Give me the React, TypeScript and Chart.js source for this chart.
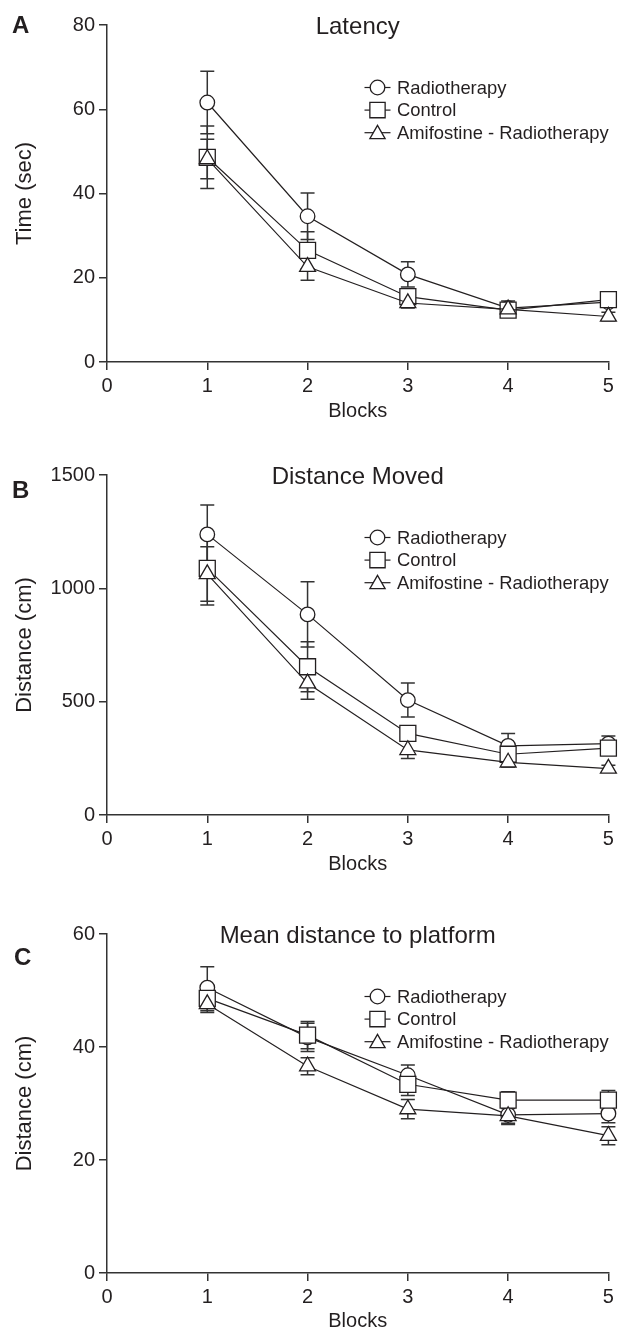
import React, { useEffect, useRef } from 'react';
import { Chart, registerables } from 'chart.js';

Chart.register(...registerables);

// ---------- data ----------
const blocks = [1, 2, 3, 4, 5];
const seriesNames = ['Radiotherapy', 'Control', 'Amifostine - Radiotherapy'];

// Panel A – Latency (sec)
const latencyRadiotherapy = [61.6, 34.6, 20.8, 12.8, 14.2];
const latencyControl = [48.6, 26.5, 15.5, 12.3, 14.8];
const latencyAmifostine = [48.2, 22.6, 14.0, 12.5, 10.8];
const latencyRadiotherapyErr = [7.4, 5.5, 3.0, 1.7, 1.0];
const latencyControlErr = [7.4, 4.4, 1.5, 1.0, 1.2];
const latencyAmifostineErr = [4.7, 3.2, 1.2, 1.2, 1.0];

// Panel B – Distance moved (cm)
const movedRadiotherapy = [1238, 885, 507, 305, 315];
const movedControl = [1088, 654, 360, 268, 295];
const movedAmifostine = [1063, 581, 287, 232, 205];
const movedRadiotherapyErr = [130, 144, 75, 55, 33];
const movedControlErr = [162, 110, 30, 30, 25];
const movedAmifostineErr = [120, 70, 38, 20, 15];

// Panel C – Mean distance to platform (cm)
const platformRadiotherapy = [50.5, 41.7, 35.0, 28.0, 28.2];
const platformControl = [48.6, 42.1, 33.4, 30.6, 30.6];
const platformAmifostine = [47.6, 36.6, 29.0, 27.8, 24.3];
const platformRadiotherapyErr = [3.7, 2.5, 1.8, 1.5, 1.6];
const platformControlErr = [2.2, 2.4, 2.0, 1.5, 1.7];
const platformAmifostineErr = [1.5, 1.5, 1.7, 1.5, 1.6];

// ---------- styling ----------
const INK = '#231f20';
const AXIS = '#333333';
const FONT = "'Liberation Sans', Arial, Helvetica, sans-serif";
const pointStyles = ['circle', 'rect', 'triangle'];
const pointRadii = [7.3, 11.3, 9.2];

Chart.defaults.font.family = FONT;
Chart.defaults.color = INK;

function drawMarker(ctx: CanvasRenderingContext2D, style: string, x: number, y: number, r: number) {
  ctx.beginPath();
  if (style === 'circle') {
    ctx.arc(x, y, r, 0, Math.PI * 2);
  } else if (style === 'rect') {
    const h = r * Math.SQRT1_2;
    ctx.rect(x - h, y - h, 2 * h, 2 * h);
  } else {
    for (let k = 0; k < 3; k++) {
      const a = (k * 2 * Math.PI) / 3;
      const px = x + Math.sin(a) * r;
      const py = y - Math.cos(a) * r;
      if (k === 0) ctx.moveTo(px, py);
      else ctx.lineTo(px, py);
    }
    ctx.closePath();
  }
  ctx.fillStyle = '#ffffff';
  ctx.fill();
  ctx.strokeStyle = INK;
  ctx.lineWidth = 1.3;
  ctx.stroke();
}

type PanelProps = {
  letter: string;
  letterX: number;
  letterBaseline: number;
  title: string;
  yLabel: string;
  yMax: number;
  yStep: number;
  values: number[][];
  errors: number[][];
  top: number;
  height: number;
  xScaleHeight: number;
  blocksPad: number;
};

function Panel(p: PanelProps) {
  const ref = useRef<HTMLCanvasElement | null>(null);

  useEffect(() => {
    if (!ref.current) return;

    const errorBars = {
      id: 'errorBars' + p.letter,
      beforeDatasetsDraw(chart: any) {
        const ctx = chart.ctx;
        const yScale = chart.scales.y;
        ctx.save();
        ctx.strokeStyle = AXIS;
        ctx.lineWidth = 1.5;
        p.values.forEach((vals, i) => {
          const meta = chart.getDatasetMeta(i);
          vals.forEach((v, j) => {
            const e = p.errors[i][j];
            const x = meta.data[j].x;
            const yt = yScale.getPixelForValue(v + e);
            const yb = yScale.getPixelForValue(v - e);
            ctx.beginPath();
            ctx.moveTo(x, yt);
            ctx.lineTo(x, yb);
            ctx.moveTo(x - 7, yt);
            ctx.lineTo(x + 7, yt);
            ctx.moveTo(x - 7, yb);
            ctx.lineTo(x + 7, yb);
            ctx.stroke();
          });
        });
        ctx.restore();
      },
    };

    const decorations = {
      id: 'decor' + p.letter,
      afterDatasetsDraw(chart: any) {
        const ctx = chart.ctx;
        const area = chart.chartArea;
        ctx.save();
        // panel letter
        ctx.fillStyle = INK;
        ctx.font = `bold 24px ${FONT}`;
        ctx.textAlign = 'left';
        ctx.textBaseline = 'alphabetic';
        ctx.fillText(p.letter, p.letterX, p.letterBaseline);
        // title
        ctx.font = `24px ${FONT}`;
        ctx.textAlign = 'center';
        ctx.fillText(p.title, (area.left + area.right) / 2, area.top + 9);
        // legend
        ctx.font = `18.4px ${FONT}`;
        ctx.textAlign = 'left';
        ctx.textBaseline = 'middle';
        seriesNames.forEach((name, i) => {
          const cy = area.top + 62.5 + 22.6 * i;
          const cx = area.left + 270.5;
          ctx.strokeStyle = INK;
          ctx.lineWidth = 1.2;
          ctx.beginPath();
          ctx.moveTo(cx - 13, cy);
          ctx.lineTo(cx + 13, cy);
          ctx.stroke();
          const r = i === 0 ? 7.3 : i === 1 ? 10.8 : 8.8;
          drawMarker(ctx, pointStyles[i], cx, i === 2 ? cy + 1.5 : cy, r);
          ctx.fillStyle = INK;
          ctx.fillText(name, area.left + 290, cy + 1);
        });
        ctx.restore();
      },
    };

    const chart = new Chart(ref.current, {
      type: 'line',
      data: {
        datasets: p.values.map((vals, i) => ({
          label: seriesNames[i],
          data: blocks.map((b, j) => ({ x: b, y: vals[j] })),
          borderColor: INK,
          borderWidth: 1.2,
          pointStyle: pointStyles[i] as any,
          pointRadius: pointRadii[i],
          pointBackgroundColor: '#ffffff',
          pointBorderColor: INK,
          pointBorderWidth: 1.3,
          tension: 0,
          order: 2 - i,
          clip: false as any,
        })),
      },
      options: {
        animation: false,
        responsive: false,
        devicePixelRatio: 1,
        events: [],
        layout: { padding: { top: 25, right: 4, left: 0, bottom: 0 } },
        plugins: {
          legend: { display: false },
          tooltip: { enabled: false },
          title: { display: false },
        },
        scales: {
          x: {
            type: 'linear',
            min: 0,
            max: 5,
            ticks: {
              stepSize: 1,
              padding: 4,
              color: INK,
              font: { size: 20, family: FONT },
              callback: (v: any) => String(v),
            },
            grid: { drawOnChartArea: false, drawTicks: true, tickLength: 8, color: AXIS, lineWidth: 1.5 },
            border: { display: true, color: AXIS, width: 1.5 },
            title: {
              display: true,
              text: 'Blocks',
              color: INK,
              font: { size: 20, family: FONT },
              padding: { top: 0, bottom: p.blocksPad },
            },
            afterFit: (s: any) => {
              s.height = p.xScaleHeight;
              s.paddingLeft = 0;
              s.paddingRight = 0;
            },
          },
          y: {
            type: 'linear',
            min: 0,
            max: p.yMax,
            ticks: {
              stepSize: p.yStep,
              padding: 4,
              color: INK,
              font: { size: 20, family: FONT },
              callback: (v: any) => String(v),
            },
            grid: { drawOnChartArea: false, drawTicks: true, tickLength: 8, color: AXIS, lineWidth: 1.5 },
            border: { display: true, color: AXIS, width: 1.5 },
            title: {
              display: true,
              text: p.yLabel,
              color: INK,
              font: { size: 22, family: FONT },
              padding: { top: 12, bottom: 0 },
            },
            afterFit: (s: any) => {
              s.width = 107;
              s.paddingTop = 0;
              s.paddingBottom = 0;
            },
          },
        },
      } as any,
      plugins: [errorBars, decorations],
    });
    return () => chart.destroy();
  }, []);

  return (
    <canvas
      ref={ref}
      width={621}
      height={p.height}
      style={{ position: 'absolute', left: 0, top: p.top, width: 621, height: p.height, display: 'block' }}
    />
  );
}

export default function App() {
  return (
    <div style={{ position: 'absolute', left: 0, top: 0, width: 621, height: 1333, overflow: 'hidden', background: '#fff' }}>
      <Panel
        letter="A"
        letterX={12}
        letterBaseline={33}
        title="Latency"
        yLabel="Time (sec)"
        yMax={80}
        yStep={20}
        values={[latencyRadiotherapy, latencyControl, latencyAmifostine]}
        errors={[latencyRadiotherapyErr, latencyControlErr, latencyAmifostineErr]}
        top={0}
        height={430}
        xScaleHeight={68}
        blocksPad={7}
      />
      <Panel
        letter="B"
        letterX={12}
        letterBaseline={48}
        title="Distance Moved"
        yLabel="Distance (cm)"
        yMax={1500}
        yStep={500}
        values={[movedRadiotherapy, movedControl, movedAmifostine]}
        errors={[movedRadiotherapyErr, movedControlErr, movedAmifostineErr]}
        top={450}
        height={433}
        xScaleHeight={68}
        blocksPad={7}
      />
      <Panel
        letter="C"
        letterX={14}
        letterBaseline={56}
        title="Mean distance to platform"
        yLabel="Distance (cm)"
        yMax={60}
        yStep={20}
        values={[platformRadiotherapy, platformControl, platformAmifostine]}
        errors={[platformRadiotherapyErr, platformControlErr, platformAmifostineErr]}
        top={909}
        height={424}
        xScaleHeight={60}
        blocksPad={0}
      />
    </div>
  );
}
